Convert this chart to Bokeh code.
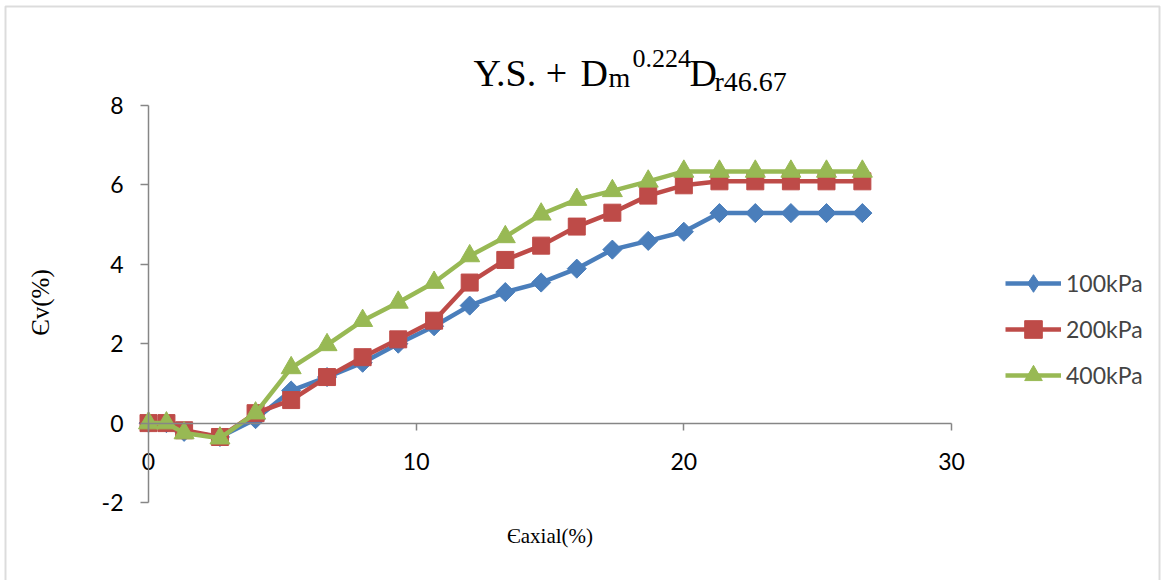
import math

from bokeh.embed import file_html
from bokeh.models import (BoxAnnotation, FixedTicker, Label, Legend,
                          LegendItem, LinearAxis, Range1d)
from bokeh.plotting import figure
from bokeh.resources import INLINE

# axial strain (%) and volumetric strain (%) for three confining pressures
strain_axial = [0, 0.67, 1.33, 2.67, 4.0, 5.33, 6.67, 8.0, 9.33, 10.67, 12.0,
                13.33, 14.67, 16.0, 17.33, 18.67, 20.0, 21.33, 22.67, 24.0,
                25.33, 26.67]
ev_100kpa = [0, 0, -0.22, -0.35, 0.1, 0.82, 1.16, 1.52, 2.0, 2.44, 2.96,
             3.3, 3.54, 3.89, 4.37, 4.59, 4.82, 5.29, 5.29, 5.29, 5.29, 5.29]
ev_200kpa = [0, 0, -0.18, -0.35, 0.25, 0.58, 1.16, 1.66, 2.11, 2.58, 3.54,
             4.11, 4.47, 4.95, 5.3, 5.73, 5.99, 6.09, 6.09, 6.09, 6.09, 6.09]
ev_400kpa = [0, 0, -0.25, -0.38, 0.25, 1.39, 1.97, 2.58, 3.04, 3.54, 4.21,
             4.69, 5.26, 5.63, 5.85, 6.09, 6.34, 6.34, 6.34, 6.34, 6.34, 6.34]
series_labels = ["100kPa", "200kPa", "400kPa"]
x_ticks = [0, 10, 20, 30]
y_ticks = [-2, 0, 2, 4, 6, 8]
x_limits = (0, 30)
y_limits = (-2, 8)

# page size and the pixel box that the axes span
W, H = 1164, 580
AX_L, AX_R, AX_T, AX_B = 148, 951, 105, 502

AXIS_GREY = "#868686"
SERIF = "Liberation Serif"
SANS = "Lato"
TICK_FONT = "23px"

# the frame fills the whole canvas; ranges are widened so the axes land on AX_*
kx = (x_limits[1] - x_limits[0]) / (AX_R - AX_L)
ky = (y_limits[1] - y_limits[0]) / (AX_B - AX_T)
x_range = Range1d(x_limits[0] - AX_L * kx, x_limits[1] + (W - AX_R) * kx)
y_range = Range1d(y_limits[0] - (H - AX_B) * ky, y_limits[1] + AX_T * ky)

p = figure(width=W, height=H, output_backend="svg", toolbar_location=None,
           x_range=x_range, y_range=y_range,
           x_axis_location=None, y_axis_location=None,
           min_border=0, background_fill_color="white",
           border_fill_color="white")
p.outline_line_color = None
p.grid.visible = False


def style_axis(ax, ticks, tick_out, standoff):
    ax.ticker = FixedTicker(ticks=ticks)
    ax.major_tick_in = 0
    ax.major_tick_out = tick_out
    ax.minor_tick_line_color = None
    ax.axis_line_color = AXIS_GREY
    ax.axis_line_width = 1.5
    ax.major_tick_line_color = AXIS_GREY
    ax.major_tick_line_width = 1.5
    ax.major_label_text_font = SANS
    ax.major_label_text_font_size = TICK_FONT
    ax.major_label_text_color = "black"
    ax.major_label_standoff = standoff
    ax.major_label_overrides = {t: str(t) for t in ticks}


# x axis crosses the y axis at 0
xa = LinearAxis(fixed_location=0, bounds=x_limits)
style_axis(xa, x_ticks, 7, 23)
p.add_layout(xa, "below")

ya = LinearAxis(fixed_location=0, bounds=y_limits)
style_axis(ya, y_ticks, 8, 17)
p.add_layout(ya, "left")

# series
styles = [
    ("#4A7EBB", "square", 13.5, math.pi / 4, ev_100kpa),
    ("#BE4B48", "square", 17, 0, ev_200kpa),
    ("#98B954", "triangle", 20, 0, ev_400kpa),
]
items = []
for (color, marker, size, angle, ys), name in zip(styles, series_labels):
    ln = p.line(strain_axial, ys, line_color=color, line_width=4.5)
    key = None
    if angle:
        # legend keys are drawn unrotated, so the diamond series gets a
        # "diamond" key glyph that sits hidden inside the turned squares
        key = p.scatter(strain_axial, ys, marker="diamond", size=16,
                        fill_color=color, line_color=color)
    sc = p.scatter(strain_axial, ys, marker=marker, size=size, angle=angle,
                   fill_color=color, line_color=color)
    items.append(LegendItem(label=name, renderers=[ln, key or sc]))

legend = Legend(items=items, location=(1005, H - 397), orientation="vertical",
                padding=0, margin=0, spacing=2, glyph_height=44,
                glyph_width=56, label_standoff=5,
                label_text_font=SANS, label_text_font_size=TICK_FONT,
                label_text_baseline="middle",
                border_line_color=None, background_fill_alpha=0)
p.add_layout(legend, "center")

# title with sub/superscripts (screen units from the lower-left corner)
title_parts = [
    ("Y.S. +", 473, H - 72, "38px"),
    ("D", 580, H - 72, "38px"),
    ("m", 608, H - 77, "28px"),
    ("0.224", 632, H - 58, "26px"),
    ("D", 689, H - 72, "38px"),
    ("r46.67", 714, H - 81, "28px"),
]
for txt, sx, sy, fs in title_parts:
    p.add_layout(Label(x=sx, y=sy, x_units="screen", y_units="screen",
                       text=txt, text_font=SERIF, text_font_size=fs,
                       text_baseline="alphabetic", text_align="left",
                       text_color="black"))

# axis titles
p.add_layout(Label(x=(AX_L + AX_R) / 2, y=H - 535, x_units="screen",
                   y_units="screen", text="Єaxial(%)", text_font=SERIF,
                   text_font_size="21px", text_align="center",
                   text_baseline="middle", text_color="black"))
p.add_layout(Label(x=40, y=H - 302, x_units="screen", y_units="screen",
                   text="Єv(%)", text_font=SERIF, text_font_size="25px",
                   text_align="center", text_baseline="middle",
                   angle=math.pi / 2, text_color="black"))

# chart-area border
p.add_layout(BoxAnnotation(left=5, right=1159, top=H - 6, bottom=-20,
                           left_units="screen", right_units="screen",
                           top_units="screen", bottom_units="screen",
                           fill_color=None, fill_alpha=0,
                           line_color="#8a8a8a", line_width=2))

open("out.html", "w").write(file_html(p, INLINE))
